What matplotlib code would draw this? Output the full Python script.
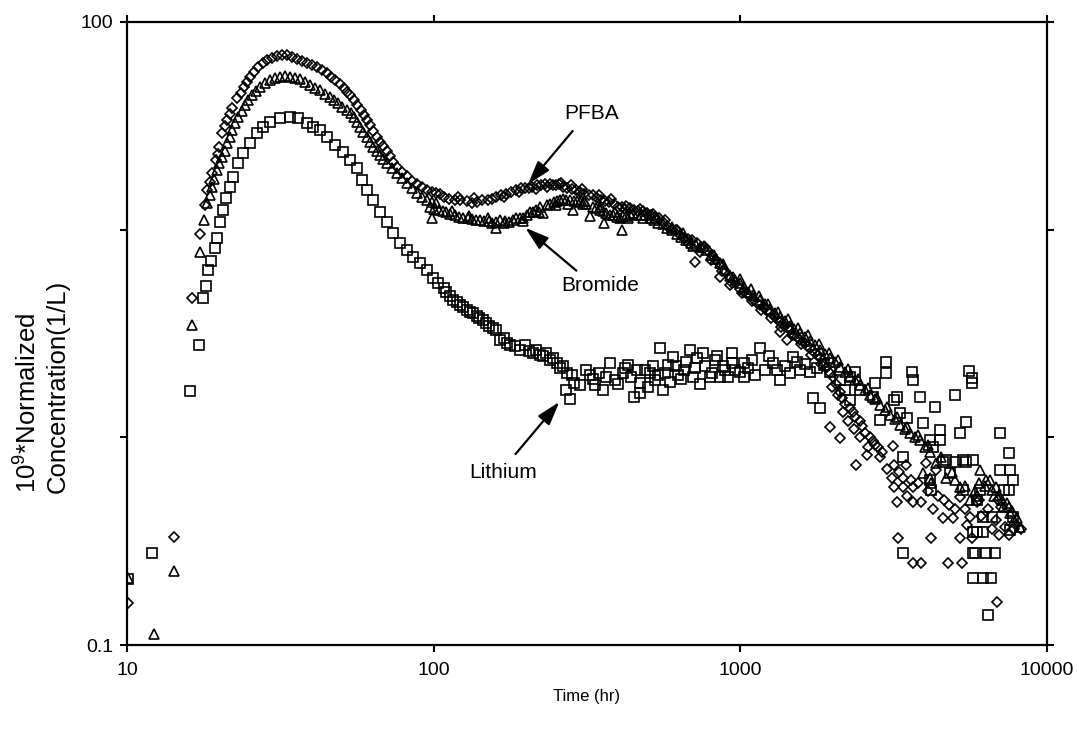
import matplotlib
matplotlib.use("Agg")
import matplotlib.pyplot as plt
import numpy as np
from matplotlib.ticker import NullLocator

plt.rcParams.update({
    "font.family": ["Liberation Sans", "DejaVu Sans"],
    "mathtext.fontset": "custom",
    "mathtext.rm": "Liberation Sans",
    "mathtext.default": "regular",
})

# (time hr, 10^9 * normalized concentration 1/L)
PFBA = [
    (10.1, 0.16), (14.2, 0.33), (16.3, 4.66), (17.3, 9.5), (17.9, 13.1), (18.3, 15.5), (18.6, 17.0),
    (19.0, 18.7), (19.5, 21.6), (19.8, 23.2), (20.0, 25.0), (20.4, 29.1), (20.8, 31.5), (21.2, 33.7),
    (21.6, 36.0), (22.0, 38.4), (22.9, 42.9), (23.5, 45.5), (24.1, 48.4), (24.6, 51.5), (25.2, 54.2),
    (26.0, 57.5), (26.8, 60.5), (27.7, 63.0), (28.6, 65.3), (29.7, 66.8), (30.9, 68.2), (32.1, 68.8),
    (33.3, 69.0), (34.5, 68.0), (35.8, 66.5), (37.2, 65.0), (38.6, 63.0), (40.0, 61.8), (41.6, 60.5),
    (43.2, 58.5), (44.8, 56.5), (46.3, 54.5), (47.8, 52.4), (49.4, 50.0), (51.0, 47.9), (52.2, 46.0),
    (53.3, 44.5), (54.8, 42.0), (56.3, 39.8), (57.8, 37.5), (59.4, 35.6), (60.7, 33.5), (62.0, 31.8),
    (63.6, 29.8), (65.2, 28.0), (66.8, 26.5), (68.4, 25.1), (70.2, 23.8), (72.0, 22.5), (73.9, 21.2),
    (75.8, 20.1), (78.6, 19.0), (81.6, 18.0), (84.7, 17.2), (88, 16.5), (91.5, 16.0), (95, 15.5),
    (98.5, 15.2), (102, 15.0), (108, 14.4), (117, 13.9), (128, 13.7), (139, 13.6), (150, 13.9),
    (160, 14.3), (172, 14.9), (186, 15.5), (198, 15.8), (210, 16.1), (224, 16.4), (239, 16.5),
    (251, 16.4), (264, 16.1), (282, 15.7), (300, 15.2), (320, 14.7), (340, 14.2), (362, 13.7),
    (386, 13.2), (410, 12.9), (437, 12.7), (465, 12.3), (495, 12.0), (527, 11.5), (560, 10.9),
    (597, 10.1), (635, 9.4), (676, 9.0), (711, 7.0), (720, 8.6), (765, 8.2), (810, 7.5), (858, 6.8),
    (858, 5.9), (925, 5.9), (925, 5.4), (997, 5.2), (1030, 5.0), (1075, 4.8), (1110, 4.6), (1158, 4.35),
    (1200, 4.2), (1249, 4.0), (1300, 3.8), (1346, 3.6), (1346, 3.2), (1400, 3.45), (1420, 2.95),
    (1451, 3.3), (1500, 3.1), (1564, 2.95), (1620, 2.85), (1686, 2.7), (1750, 2.55), (1817, 2.4),
    (1880, 2.25), (1959, 2.05), (1959, 1.12), (2050, 1.8), (2112, 1.65), (2112, 0.99), (2200, 1.45),
    (2277, 1.38), (2370, 1.25), (2390, 0.735), (2455, 1.2), (2550, 1.05), (2580, 0.82), (2650, 1.0),
    (2750, 0.92), (2810, 0.90), (2850, 0.80), (3120, 0.64), (3140, 0.91), (3160, 0.735), (3160, 0.575),
    (3240, 0.488), (3280, 0.327), (3400, 0.64), (3400, 0.575), (3480, 0.735), (3650, 0.575),
    (3650, 0.488), (3650, 0.248), (3800, 0.60), (3880, 0.488), (3880, 0.248), (4030, 0.75),
    (4100, 0.55), (4190, 0.327), (4350, 0.695), (4400, 0.52), (4570, 0.41), (4750, 0.248), (4800, 0.47),
    (4940, 0.41), (5200, 0.515), (5200, 0.327), (5270, 0.248), (5400, 0.45), (5610, 0.413),
    (5680, 0.327), (5900, 0.488), (6000, 0.50), (6400, 0.45), (6800, 0.40), (6860, 0.161), (6900, 0.50),
    (7100, 0.46), (7300, 0.37), (7800, 0.36), (7900, 0.38), (8200, 0.36),
    (105, 14.8), (112, 14.0), (122, 13.9), (133, 13.4), (144, 13.8), (155, 14.0), (166, 14.7),
    (179, 15.1), (192, 15.8), (204, 15.9), (217, 16.4), (231, 16.6), (245, 16.3), (257, 16.5),
    (273, 15.8), (291, 15.5), (310, 14.8), (330, 14.6), (351, 13.8), (374, 13.5), (398, 12.9),
    (423, 13.0), (451, 12.4), (480, 12.3), (511, 11.7), (543, 11.3), (578, 10.4), (616, 9.9),
    (655, 9.1), (698, 8.9), (742, 8.2), (787, 7.9), (834, 7.1), (890, 6.3), (960, 5.6),
    (1050, 4.9), (1135, 4.45), (1225, 4.05), (1320, 3.7), (1430, 3.35), (1530, 3.05), (1650, 2.75),
    (1790, 2.48), (1910, 2.15), (2000, 1.95), (2150, 1.55), (2330, 1.32), (2500, 1.13), (2700, 0.96),
    (120, 14.4), (135, 14.2), (170, 14.4), (190, 15.2), (215, 15.6), (235, 16.0), (260, 16.8),
    (280, 16.3), (305, 15.6), (345, 14.6), (380, 14.0), (420, 12.6), (470, 12.6), (520, 11.9),
    (570, 11.1), (620, 10.0), (680, 8.5), (740, 7.8), (800, 7.1), (870, 6.3), (940, 5.5),
    (1010, 4.95), (1090, 4.55), (1170, 4.1), (1260, 3.75), (1360, 3.4), (1470, 3.1), (1580, 2.8),
    (1700, 2.5), (1830, 2.25), (1990, 1.75), (2080, 1.6), (2160, 1.32), (2250, 1.2), (2350, 1.1),
    (2450, 1.0), (2600, 0.9), (2900, 0.85), (3000, 0.7), (3300, 0.68), (3600, 0.62), (3500, 0.52),
    (4250, 0.45), (4600, 0.5), (5000, 0.45), (5500, 0.38), (6100, 0.42), (6600, 0.36), (7000, 0.34),
    (7500, 0.34),
]

BROMIDE = [
    (10.1, 0.21), (12.25, 0.113), (14.2, 0.227), (16.3, 3.47), (17.3, 7.81), (17.8, 11.1), (18.3, 13.4),
    (18.6, 14.7), (18.9, 16.0), (19.2, 17.5), (19.6, 19.3), (20.0, 20.8), (20.4, 22.3), (20.8, 24.0),
    (21.2, 26.1), (21.6, 28.0), (22.0, 30.1), (22.5, 32.5), (23.1, 34.8), (23.7, 37.3), (24.3, 39.7),
    (24.9, 42.0), (25.5, 44.4), (26.3, 46.5), (27.1, 48.4), (28.2, 50.5), (29.3, 52.4), (30.4, 53.5),
    (31.5, 54.2), (32.7, 54.6), (34.0, 54.2), (35.2, 53.8), (36.6, 53.0), (38.0, 51.5), (39.5, 49.5),
    (41.0, 48.2), (42.6, 46.9), (44.2, 45.0), (45.9, 43.4), (47.3, 42.0), (48.7, 40.6), (50.4, 39.0),
    (52.2, 37.6), (53.6, 36.2), (55.0, 34.8), (56.2, 33.0), (57.5, 31.1), (59.0, 29.5), (60.5, 27.9),
    (62.0, 26.3), (63.6, 24.9), (65.2, 23.8), (66.8, 22.8), (68.5, 21.8), (70.2, 20.9), (73.0, 19.8),
    (75.8, 18.7), (78.6, 17.7), (81.6, 16.7), (84.7, 15.8), (88, 15.0), (91.5, 14.4), (95, 13.9),
    (97, 12.8), (98.5, 13.6), (99, 11.4), (102, 13.4), (104, 12.4), (110, 12.1), (117, 11.8),
    (125, 11.4), (133, 11.2), (142, 11.1), (151, 11.0), (160, 10.9), (160, 10.2), (171, 11.0),
    (182, 11.1), (191, 11.4), (201, 11.7), (211, 12.2), (222, 12.8), (228, 12.0), (234, 13.1),
    (246, 13.5), (258, 13.8), (271, 13.9), (285, 12.4), (286, 13.7), (300, 13.5), (315, 13.2),
    (323, 11.6), (331, 12.8), (348, 12.4), (360, 10.7), (366, 12.0), (385, 11.7), (405, 11.4),
    (410, 9.9), (425, 11.6), (447, 12.0), (475, 11.8), (507, 11.4), (540, 10.8), (576, 10.2),
    (620, 9.5), (664, 8.9), (718, 8.4), (775, 7.96), (830, 7.2), (890, 6.4), (960, 5.7), (997, 5.5),
    (1060, 5.0), (1158, 4.57), (1250, 4.15), (1346, 3.79), (1450, 3.45), (1564, 3.18), (1690, 2.9),
    (1817, 2.63), (1960, 2.4), (2112, 2.18), (2280, 1.97), (2455, 1.78), (2650, 1.6), (2852, 1.43),
    (3070, 1.28), (3314, 1.15), (3570, 1.05), (3851, 0.97), (3950, 0.67), (4150, 0.85), (4150, 0.64),
    (4190, 0.60), (4350, 0.75), (4690, 0.64), (5000, 0.62), (5200, 0.575), (5610, 0.499), (5830, 0.55),
    (6000, 0.60), (6040, 0.695), (6330, 0.622), (6510, 0.622), (6620, 0.557), (6830, 0.575),
    (7000, 0.53), (7150, 0.499), (7400, 0.48), (7520, 0.461), (7700, 0.44), (7810, 0.40), (8000, 0.41),
    (8160, 0.37),
    (100, 12.6), (107, 12.3), (113, 11.9), (121, 11.5), (129, 11.4), (137, 11.1), (146, 11.0),
    (155, 10.8), (165, 11.1), (176, 10.9), (186, 11.3), (196, 11.4), (206, 12.1), (216, 12.4),
    (240, 13.2), (252, 13.7), (264, 14.0), (278, 13.8), (293, 13.7), (307, 13.2), (339, 12.7),
    (357, 12.3), (375, 11.8), (395, 11.5), (415, 11.6), (436, 11.9), (460, 11.8), (490, 11.7),
    (523, 11.1), (558, 10.6), (598, 9.9), (642, 9.2), (690, 8.6), (745, 8.2), (802, 7.5),
    (860, 6.9), (925, 6.0), (1030, 5.3), (1100, 4.85), (1200, 4.4), (1300, 3.95), (1400, 3.62),
    (1500, 3.32), (1620, 3.05), (1750, 2.78), (1890, 2.52), (2030, 2.3), (2190, 2.07), (2360, 1.88),
    (2550, 1.69), (2750, 1.52), (2960, 1.35), (3190, 1.22), (3440, 1.1), (3700, 1.0), (4000, 0.9),
    (115, 12.3), (130, 11.6), (150, 11.3), (170, 10.7), (195, 11.0), (220, 12.2), (250, 13.1),
    (275, 13.3), (310, 13.7), (350, 12.9), (390, 12.1), (430, 11.3), (480, 11.3), (530, 11.3),
    (600, 10.3), (650, 9.6), (700, 8.3), (760, 8.3), (820, 7.5), (880, 6.8), (950, 5.9), (1000, 5.8),
    (1080, 5.2), (1150, 4.8), (1230, 4.4), (1330, 4.0), (1430, 3.7), (1540, 3.35), (1660, 3.1),
    (1800, 2.8), (1940, 2.55), (2080, 2.35), (2240, 2.12), (2420, 1.9), (2600, 1.72), (2800, 1.55),
    (3000, 1.4), (3250, 1.25), (3500, 1.12), (3800, 1.02), (4100, 0.92), (4500, 0.8), (4900, 0.68),
    (5400, 0.58), (5900, 0.52), (6300, 0.58), (6700, 0.52), (7200, 0.46), (7600, 0.43),
]

LITHIUM = [
    (10.1, 0.207), (12.1, 0.276), (16.05, 1.67), (17.2, 2.78), (17.7, 4.66), (18.1, 5.34), (18.4, 6.38),
    (18.8, 7.05), (19.3, 8.11), (19.6, 9.06), (20.1, 10.9), (20.6, 12.4), (21.1, 14.2), (21.7, 16.0),
    (22.2, 17.9), (23.0, 20.8), (23.9, 23.3), (25.2, 26.1), (26.5, 29.1), (27.8, 31.1), (29.3, 32.9),
    (31.5, 34.4), (34.0, 34.8), (36.1, 34.4), (38.5, 32.5), (40.5, 31.1), (42.6, 30.1), (44.8, 27.9),
    (47.7, 25.5), (50.8, 23.6), (53.3, 21.6), (56.1, 19.8), (58.2, 17.3), (60.5, 15.5), (63.6, 13.9),
    (66.8, 12.1), (70.2, 10.9), (73.8, 9.6), (77.6, 8.6), (81.6, 7.96), (85.8, 7.36), (90.2, 6.89),
    (94.9, 6.38), (99.8, 5.83), (103.5, 5.52), (107.7, 5.22), (113, 4.8), (119, 4.48), (125, 4.25),
    (131, 4.01), (138, 3.85), (145, 3.66), (152, 3.45), (160, 3.28), (165, 2.94), (173, 2.84),
    (177, 2.78), (191, 2.63), (198, 2.78), (211, 2.54), (222, 2.49), (233, 2.54), (239, 2.35),
    (252, 2.28), (258, 2.15), (270, 1.69), (272, 2.04), (278, 1.53), (283, 1.99), (286, 1.82),
    (300, 1.78), (315, 2.11), (323, 1.99), (335, 1.78), (357, 1.69), (376, 2.28), (390, 1.89),
    (415, 2.04), (430, 2.23), (450, 1.56), (471, 1.82), (471, 1.63), (489, 2.11), (507, 2.04),
    (527, 1.89), (547, 2.69), (560, 1.69), (580, 2.23), (602, 2.43), (625, 2.0), (655, 2.11),
    (685, 2.63), (710, 2.15), (738, 1.80), (757, 2.54), (796, 1.95), (826, 2.35), (858, 1.95),
    (890, 2.11), (940, 2.54), (940, 2.28), (997, 2.07), (1030, 2.28), (1030, 1.95), (1090, 2.35),
    (1158, 2.69), (1200, 2.11), (1280, 2.28), (1346, 1.89), (1400, 2.2), (1490, 2.43), (1564, 2.11),
    (1690, 2.07), (1720, 1.55), (1817, 1.38), (1880, 2.23), (1959, 2.07), (2112, 1.89), (2200, 1.69),
    (2277, 1.96), (2277, 1.51), (2370, 2.07), (2455, 1.69), (2700, 1.56), (2740, 1.82), (2850, 1.21),
    (2990, 2.30), (2990, 2.04), (3160, 1.51), (3250, 1.56), (3314, 1.31), (3400, 0.80), (3400, 0.277),
    (3500, 1.24), (3640, 2.06), (3650, 1.89), (3850, 1.56), (3950, 1.17), (4150, 0.97), (4150, 0.622),
    (4190, 0.557), (4250, 0.90), (4300, 1.40), (4476, 0.97), (4480, 1.08), (4570, 0.76), (4700, 0.78),
    (4830, 0.67), (5010, 1.60), (5010, 0.76), (5200, 1.05), (5310, 0.557), (5330, 0.78), (5430, 1.18),
    (5430, 0.76), (5550, 2.09), (5680, 1.93), (5680, 1.82), (5750, 0.35), (5750, 0.277), (5750, 0.21),
    (5750, 0.78), (5830, 0.277), (5900, 0.499), (5900, 0.35), (6040, 0.557), (6180, 0.35),
    (6180, 0.21), (6180, 0.413), (6330, 0.277), (6400, 0.139), (6560, 0.21), (6620, 0.413),
    (6780, 0.277), (7020, 1.05), (7020, 0.695), (7270, 0.557), (7510, 0.84), (7510, 0.557),
    (7570, 0.695), (7600, 0.358), (7730, 0.622), (7730, 0.413),
    (330, 1.9), (345, 2.05), (365, 1.95), (400, 1.8), (420, 2.15), (440, 1.95), (460, 2.1),
    (500, 1.75), (520, 2.2), (540, 2.0), (570, 2.05), (590, 1.85), (615, 2.2), (640, 1.9),
    (665, 2.3), (700, 1.95), (725, 2.4), (770, 2.2), (810, 2.05), (840, 2.45), (875, 2.2),
    (915, 1.95), (960, 2.1), (1060, 2.15), (1120, 2.0), (1240, 2.45), (1320, 2.1), (1450, 2.05),
    (1530, 2.3), (1620, 2.25), (1780, 2.15), (110, 5.0), (116, 4.6), (122, 4.35), (128, 4.1),
    (134, 3.95), (141, 3.75), (148, 3.55), (156, 3.35), (169, 3.0), (184, 2.75), (204, 2.6),
    (216, 2.62), (227, 2.45), (245, 2.4), (264, 2.2),
]

X_TICKS = [10, 100, 1000, 10000]
X_LABELS = ["10", "100", "1000", "10000"]
Y_TICKS = [0.1, 1, 10, 100]
Y_LABELS = ["0.1", "", "", "100"]

fig = plt.figure(figsize=(10.77, 7.30), dpi=100)
ax = fig.add_axes([0.1179, 0.1164, 0.8542, 0.8538])

mk = dict(ls="none", mfc="none", mec="black", mew=1.2)
t, c = np.array(LITHIUM).T
ax.plot(t, c, marker="s", ms=7.0, **mk)
t, c = np.array(BROMIDE).T
ax.plot(t, c, marker="^", ms=6.8, **mk)
t, c = np.array(PFBA).T
ax.plot(t, c, marker="D", ms=5.0, **mk)

ax.set_xscale("log")
ax.set_yscale("log")
ax.set_xlim(10, 10000)
ax.set_ylim(0.1, 100)
ax.set_xticks(X_TICKS)
ax.set_xticklabels(X_LABELS)
ax.set_yticks(Y_TICKS)
ax.set_yticklabels(Y_LABELS)
ax.xaxis.set_minor_locator(NullLocator())
ax.yaxis.set_minor_locator(NullLocator())
ax.tick_params(which="major", direction="out", length=5, width=1.5,
               top=True, right=True, labelsize=14, colors="black")
ax.tick_params(axis="x", pad=7)
ax.tick_params(axis="y", pad=5)
for s in ax.spines.values():
    s.set_linewidth(1.6)

arrow = dict(arrowstyle="-|>,head_length=0.9,head_width=0.28", color="black", lw=1.6,
             shrinkA=0, shrinkB=0, mutation_scale=16)
ax.annotate("", xy=(203, 16.5), xytext=(284, 29.8), arrowprops=arrow)
ax.annotate("", xy=(199, 10.2), xytext=(292, 6.34), arrowprops=arrow)
ax.annotate("", xy=(257, 1.48), xytext=(185, 0.83), arrowprops=arrow)
ax.text(328, 36.3, "PFBA", fontsize=15, ha="center", va="center")
ax.text(348, 5.40, "Bromide", fontsize=15, ha="center", va="center")
ax.text(169, 0.68, "Lithium", fontsize=15, ha="center", va="center")

fig.text(587 / 1077, 1 - 697 / 730, "Time (hr)", fontsize=12, ha="center", va="center")
fig.text(42 / 1077, 1 - 493 / 730, "10$^9$*Normalized\nConcentration(1/L)", fontsize=18.5,
         rotation=90, ha="center", va="bottom", multialignment="left", linespacing=1.25)

fig.savefig("out.png", dpi=100)
